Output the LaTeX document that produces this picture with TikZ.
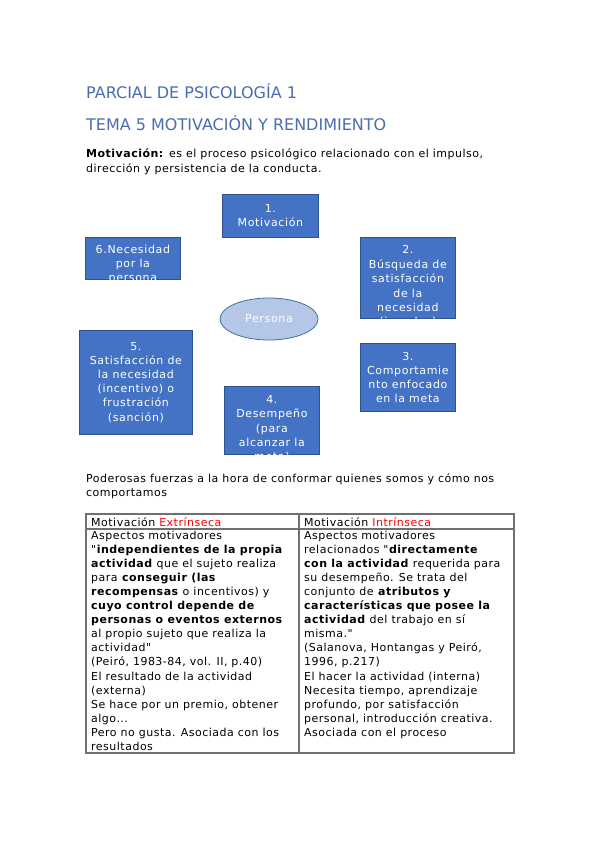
\documentclass[tikz,border=0pt]{standalone}
\usepackage{fontspec}
\setmainfont{DejaVu Sans}
\newfontfamily\spaced[LetterSpace=4.5]{DejaVu Sans}
\newfontfamily\boxfont[LetterSpace=6]{DejaVu Sans}
\usetikzlibrary{shapes.geometric}
\definecolor{titleblue}{HTML}{4A6DB2}
\definecolor{boxfill}{HTML}{4472C4}
\definecolor{boxline}{HTML}{2F528F}
\definecolor{ellfill}{HTML}{B4C7E7}
\definecolor{ellline}{HTML}{41719C}
\definecolor{tabline}{HTML}{707070}
\definecolor{redtxt}{HTML}{FF0000}
\begin{document}
\begin{tikzpicture}[x=1pt,y=-1pt,
  titletext/.style={anchor=base west,inner sep=0,text=titleblue,font=\fontsize{16}{19}\selectfont},
  bodytext/.style={anchor=north west,inner sep=0,align=left,font=\spaced\fontsize{11}{14.1}\selectfont},
  stepbox/.style={draw=boxline,fill=boxfill,line width=0.8pt,inner sep=0,anchor=north west},
  boxtext/.style={inner sep=0,align=center,text=white,font=\boxfont\fontsize{11}{14.2}\selectfont},
  tabrule/.style={draw=tabline,line width=1.1pt}]
\useasboundingbox (0,0) rectangle (599,848);
\fill[white] (0,0) rectangle (599,848);

\node[titletext] (t1) at (86,99) {PARCIAL DE PSICOLOGÍA 1};
\node[titletext] (t2) at (86,130.5) {TEMA 5 MOTIVACIÓN Y RENDIMIENTO};
\node[bodytext,font=\spaced\fontsize{11}{15}\selectfont] (def) at (86,148.5) {\textbf{Motivación:} es el proceso psicológico relacionado con el impulso,\\dirección y persistencia de la conducta.};

% boxes
\node[stepbox,minimum width=96pt,minimum height=43pt] (b1) at (222,194) {};
\node[stepbox,minimum width=95pt,minimum height=42pt] (b6) at (85,237) {};
\node[stepbox,minimum width=95pt,minimum height=81pt] (b2) at (360,237) {};
\node[stepbox,minimum width=95pt,minimum height=68pt] (b3) at (360,343) {};
\node[stepbox,minimum width=95pt,minimum height=68pt] (b4) at (224,386) {};
\node[stepbox,minimum width=113pt,minimum height=104pt] (b5) at (79,330) {};
\node[ellipse,draw=ellline,fill=ellfill,line width=0.8pt,minimum width=98pt,minimum height=42pt,inner sep=0,text=white,font=\boxfont\fontsize{11}{14}\selectfont] (per) at (269,319) {Persona};

\node[boxtext] (x1) at (b1.center) {1.\\Motivación};
\node[boxtext] (x3) at (b3.center) {3.\\Comportamie\\nto enfocado\\en la meta};
\node[boxtext] (x5) at (b5.center) {5.\\Satisfacción de\\la necesidad\\(incentivo) o\\frustración\\(sanción)};
\begin{scope}
\clip (b6.north west) rectangle (b6.south east);
\node[boxtext,anchor=north] (x6) at ([yshift=-7.5pt]b6.north) {6.Necesidad\\por la\\persona};
\end{scope}
\begin{scope}
\clip (b2.north west) rectangle (b2.south east);
\node[boxtext,anchor=north,font=\boxfont\fontsize{11}{14.4}\selectfont] (x2) at ([yshift=-8.5pt]b2.north) {2.\\Búsqueda de\\satisfacción\\de la\\necesidad\\(impulso)};
\end{scope}
\begin{scope}
\clip (b4.north west) rectangle (b4.south east);
\node[boxtext,anchor=north,font=\boxfont\fontsize{11}{14.4}\selectfont] (x4) at ([yshift=-9pt]b4.north) {4.\\Desempeño\\(para\\alcanzar la\\meta)};
\end{scope}

\node[bodytext,font=\spaced\fontsize{11}{14}\selectfont] (pod) at (86,473.5) {Poderosas fuerzas a la hora de conformar quienes somos y cómo nos\\comportamos};

% table
\coordinate (tnw) at (86,514);
\coordinate (tse) at (514,753);
\coordinate (hl) at (86,529);
\coordinate (hr) at (514,529);
\coordinate (ct) at (299,514);
\coordinate (cb) at (299,753);
\draw[tabrule] (tnw) rectangle (tse);
\draw[tabrule] (hl) -- (hr);
\draw[tabrule] (ct) -- (cb);

\node[bodytext] (h1) at (91,517) {Motivación \textcolor{redtxt}{Extrínseca}};
\node[bodytext] (h2) at (304,517) {Motivación \textcolor{redtxt}{Intrínseca}};
\node[bodytext] (c1) at (91,530.5) {Aspectos motivadores\\
"\textbf{independientes de la propia}\\
\textbf{actividad} que el sujeto realiza\\
para \textbf{conseguir (las}\\
\textbf{recompensas} o incentivos) y\\
\textbf{cuyo control depende de}\\
\textbf{personas o eventos externos}\\
al propio sujeto que realiza la\\
actividad"\\
(Peiró, 1983-84, vol. II, p.40)\\
El resultado de la actividad\\
(externa)\\
Se hace por un premio, obtener\\
algo...\\
Pero no gusta. Asociada con los\\
resultados};
\node[bodytext] (c2) at (304,530.5) {Aspectos motivadores\\
relacionados "\textbf{directamente}\\
\textbf{con la actividad} requerida para\\
su desempeño. Se trata del\\
conjunto de \textbf{atributos y}\\
\textbf{características que posee la}\\
\textbf{actividad} del trabajo en sí\\
misma."\\
(Salanova, Hontangas y Peiró,\\
1996, p.217)\\
El hacer la actividad (interna)\\
Necesita tiempo, aprendizaje\\
profundo, por satisfacción\\
personal, introducción creativa.\\
Asociada con el proceso};
\end{tikzpicture}
\end{document}
